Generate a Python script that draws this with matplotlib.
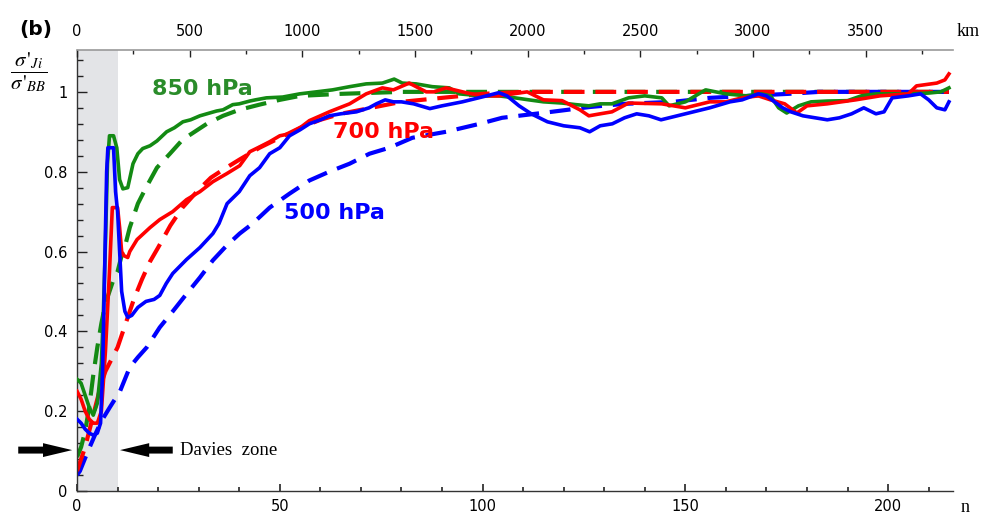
import matplotlib
matplotlib.use("Agg")
import matplotlib.pyplot as plt
from matplotlib.ticker import MultipleLocator, FormatStrFormatter
from matplotlib.patches import FancyArrowPatch

# ---------------- data ----------------
KM_PER_N = 18.0

g_sol_x = [0, 1, 2, 3, 4, 5, 6, 6.5, 7, 7.5, 8, 9, 9.8, 10.5, 11.3, 12.5, 13.8, 15, 16.2, 18, 19.7,
           22.1, 24, 26.1, 28, 30.3, 32, 34.4, 36, 38.4, 40, 42.6, 44, 46.7, 50.7, 54.9, 59, 63, 67.2,
           71.3, 75.3, 78.2, 80.2, 83.6, 87.6, 91.8, 94.2, 99.9, 104, 108, 111.4, 115, 119.6, 123,
           126.2, 129, 131.9, 136, 140, 144.2, 146, 150, 153.3, 155, 160, 165, 168.8, 171, 173, 175,
           177.9, 181, 185, 190, 193.4, 197, 201.7, 205.7, 210, 213, 215]
g_sol_y = [0.28, 0.27, 0.24, 0.21, 0.19, 0.22, 0.32, 0.45, 0.62, 0.82, 0.89, 0.89, 0.86, 0.78, 0.757,
           0.76, 0.82, 0.845, 0.858, 0.865, 0.877, 0.90, 0.91, 0.925, 0.93, 0.94, 0.945, 0.952, 0.955,
           0.968, 0.97, 0.977, 0.98, 0.985, 0.987, 0.995, 1.0, 1.005, 1.013, 1.02, 1.022, 1.032, 1.022,
           1.02, 1.013, 1.01, 0.995, 0.99, 0.99, 0.985, 0.98, 0.975, 0.972, 0.968, 0.965, 0.97, 0.97,
           0.985, 0.99, 0.985, 0.965, 0.975, 0.995, 1.005, 0.995, 0.99, 0.995, 0.99, 0.96, 0.947,
           0.965, 0.975, 0.977, 0.978, 0.99, 0.995, 0.995, 0.995, 0.997, 1.0, 1.01]

g_dsh_x = [0, 1, 2, 3, 4, 5, 6, 7, 8, 9, 10, 11, 12, 13, 14, 15, 17, 19.7, 22.9, 26, 29, 32, 36, 40,
           45, 50, 55, 65, 80, 120, 160, 215]
g_dsh_y = [0.085, 0.11, 0.15, 0.21, 0.29, 0.36, 0.42, 0.47, 0.50, 0.53, 0.55, 0.59, 0.62, 0.66, 0.69,
           0.72, 0.76, 0.81, 0.845, 0.88, 0.90, 0.92, 0.94, 0.955, 0.968, 0.98, 0.99, 0.995, 1.0, 1.0,
           1.0, 1.0]

r_sol_x = [0, 1, 2, 3, 4, 5, 6, 7, 8, 8.7, 10, 10.5, 11, 11.5, 12.5, 13, 14.8, 18, 20.4, 23.6, 27,
           30.3, 33.5, 36.9, 40.1, 42.6, 45, 47.5, 50, 52.4, 55, 57.3, 60, 62.2, 67.2, 71.3, 75.3, 78,
           81.9, 86.1, 88, 91, 95.9, 100, 104, 111, 115, 119.6, 124, 126.2, 129, 131.9, 136, 144.2,
           150, 156, 160, 164, 168, 171, 174.5, 177.5, 180, 185, 192, 198, 205, 207, 212, 214, 215]
r_sol_y = [0.25, 0.23, 0.20, 0.18, 0.17, 0.17, 0.20, 0.35, 0.55, 0.71, 0.71, 0.66, 0.60, 0.59, 0.585,
           0.60, 0.63, 0.66, 0.68, 0.70, 0.73, 0.75, 0.775, 0.795, 0.815, 0.85, 0.862, 0.875, 0.89,
           0.895, 0.91, 0.928, 0.94, 0.95, 0.97, 0.995, 1.01, 1.005, 1.022, 1.0, 1.0, 1.01, 0.998,
           0.99, 0.99, 1.0, 0.98, 0.978, 0.955, 0.94, 0.945, 0.95, 0.972, 0.97, 0.96, 0.975, 0.975,
           0.985, 0.99, 0.98, 0.97, 0.947, 0.965, 0.97, 0.98, 0.99, 0.995, 1.015, 1.022, 1.03, 1.045]

r_dsh_x = [0, 1, 2, 3, 4, 5, 6, 7, 8, 9, 10, 11, 12, 13, 14, 16, 18, 20, 23, 26, 30, 33, 36, 40, 45,
           50, 55, 60, 65, 70, 80, 90, 100, 110, 160, 215]
r_dsh_y = [0.05, 0.08, 0.11, 0.15, 0.19, 0.23, 0.27, 0.30, 0.32, 0.34, 0.36, 0.39, 0.42, 0.45, 0.48,
           0.53, 0.575, 0.61, 0.665, 0.71, 0.755, 0.785, 0.805, 0.83, 0.86, 0.885, 0.91, 0.93, 0.945,
           0.955, 0.975, 0.985, 0.995, 1.0, 1.0, 1.0]

b_sol_x = [0, 1, 2, 3, 4, 5, 5.8, 6.3, 6.8, 7.3, 7.6, 9, 9.5, 10, 10.5, 11, 11.8, 12.5, 13.5, 15, 17,
           19, 20.4, 22, 23.6, 27, 30.3, 33.5, 35, 37, 40, 42.6, 45, 47.5, 50, 52.4, 55, 57.3, 60,
           62.2, 65, 68.9, 72, 73.8, 76, 78, 80, 83, 87, 90, 95, 99, 101, 104, 106, 109, 112, 116,
           120, 124, 126.4, 129, 132, 135, 138, 141, 144, 148, 152, 156, 161, 164, 168, 170, 172,
           174, 176, 179, 182, 185, 188, 191, 194, 197, 199, 201, 205, 208, 210, 212, 214, 215]
b_sol_y = [0.18, 0.17, 0.155, 0.145, 0.14, 0.145, 0.17, 0.30, 0.55, 0.80, 0.86, 0.86, 0.75, 0.70,
           0.60, 0.50, 0.45, 0.435, 0.44, 0.46, 0.475, 0.48, 0.49, 0.52, 0.545, 0.58, 0.61, 0.645,
           0.67, 0.72, 0.75, 0.79, 0.81, 0.845, 0.86, 0.89, 0.905, 0.92, 0.93, 0.94, 0.945, 0.95,
           0.96, 0.97, 0.98, 0.975, 0.975, 0.97, 0.958, 0.965, 0.975, 0.985, 0.99, 0.998, 0.99,
           0.965, 0.945, 0.925, 0.915, 0.91, 0.90, 0.915, 0.92, 0.935, 0.945, 0.94, 0.93, 0.94,
           0.95, 0.96, 0.975, 0.98, 0.995, 0.99, 0.975, 0.96, 0.95, 0.94, 0.935, 0.93, 0.935, 0.945,
           0.96, 0.945, 0.95, 0.985, 0.99, 0.995, 0.98, 0.96, 0.955, 0.975]

b_dsh_x = [0, 0.7, 2.7, 4.4, 6, 8.1, 10.6, 13, 15, 17.2, 20.4, 23.6, 27.1, 30.3, 33.5, 36.9, 40.1,
           43.3, 47.5, 52.4, 57.3, 62.2, 67.2, 72.1, 77, 82.7, 91, 99.3, 104.8, 117, 126.4, 135, 147,
           156, 165.6, 175.4, 183, 215]
b_dsh_y = [0.04, 0.05, 0.10, 0.14, 0.175, 0.21, 0.25, 0.31, 0.335, 0.36, 0.41, 0.45, 0.495, 0.535,
           0.578, 0.615, 0.645, 0.67, 0.71, 0.745, 0.778, 0.80, 0.82, 0.845, 0.86, 0.885, 0.90, 0.92,
           0.935, 0.95, 0.962, 0.97, 0.975, 0.985, 0.99, 0.995, 1.0, 1.0]

labels = ["850 hPa", "700 hPa", "500 hPa"]
davies_n = 10
x_max = 216
y_max = 1.105

GREEN = "#138a13"
RED = "#ff0000"
BLUE = "#0000ff"

plt.rcParams["mathtext.fontset"] = "stix"

# ---------------- figure ----------------
fig = plt.figure(figsize=(9.89, 5.15), dpi=100)
ax = fig.add_axes([0.0779, 0.0466, 0.9636 - 0.0779, 0.903 - 0.0466])

ax.axvspan(0, davies_n, color="#e3e4e7", zorder=0, lw=0)

dash = (5.0, 2.6)
ax.plot(g_dsh_x, g_dsh_y, color=GREEN, lw=3.0, dashes=dash, zorder=2)
ax.plot(b_dsh_x, b_dsh_y, color=BLUE, lw=3.0, dashes=dash, zorder=2)
ax.plot(r_dsh_x, r_dsh_y, color=RED, lw=3.0, dashes=dash, zorder=2)
ax.plot(g_sol_x, g_sol_y, color=GREEN, lw=2.6, zorder=3)
ax.plot(r_sol_x, r_sol_y, color=RED, lw=2.6, zorder=3)
ax.plot(b_sol_x, b_sol_y, color=BLUE, lw=2.6, zorder=4)

ax.text(30.8, 1.008, labels[0], color="#2a8c2a", fontsize=16, fontweight="bold",
        ha="center", va="center")
ax.text(75.5, 0.899, labels[1], color=RED, fontsize=16, fontweight="bold",
        ha="center", va="center")
ax.text(63.5, 0.697, labels[2], color=BLUE, fontsize=16, fontweight="bold",
        ha="center", va="center")

ax.set_xlim(0, x_max)
ax.set_ylim(0, y_max)

ax.spines["right"].set_visible(False)
for s in ["left", "bottom"]:
    ax.spines[s].set_color("#333333")
    ax.spines[s].set_linewidth(1.0)
ax.spines["top"].set_visible(False)

ax.xaxis.set_major_locator(MultipleLocator(50))
ax.xaxis.set_minor_locator(MultipleLocator(10))
ax.yaxis.set_major_locator(MultipleLocator(0.2))
ax.yaxis.set_minor_locator(MultipleLocator(0.04))
ax.yaxis.set_major_formatter(FormatStrFormatter("%g"))

ax.tick_params(axis="both", which="both", direction="in", labelsize=10.5, color="#222222")
ax.tick_params(axis="x", which="major", length=5, width=1.2, pad=6)
ax.tick_params(axis="x", which="minor", length=3, width=1.2)
ax.tick_params(axis="y", which="major", length=7, width=1.0, pad=7)
ax.tick_params(axis="y", which="minor", length=4, width=1.0)

top = ax.twiny()
top.set_xlim(0, x_max * KM_PER_N)
top.xaxis.set_major_locator(MultipleLocator(500))
top.xaxis.set_minor_locator(MultipleLocator(250))
top.tick_params(axis="x", which="both", direction="in", labelsize=10.5, color="#222222")
top.tick_params(axis="x", which="major", length=5, width=1.0, pad=8)
top.tick_params(axis="x", which="minor", length=3, width=1.0)
for s in ["left", "right", "bottom"]:
    top.spines[s].set_visible(False)
top.spines["top"].set_color("#999999")
top.spines["top"].set_linewidth(1.2)

# Davies zone arrows and text
arrow_kw = dict(arrowstyle="simple,head_length=2.1,head_width=1.0,tail_width=0.5",
                mutation_scale=10, color="black", lw=0, clip_on=False,
                shrinkA=0, shrinkB=0)
ax.add_patch(FancyArrowPatch((-14.5, 0.1025), (-1.2, 0.1025), **arrow_kw))
ax.add_patch(FancyArrowPatch((23.6, 0.1025), (10.6, 0.1025), **arrow_kw))
ax.text(25.3, 0.1025, "Davies  zone", fontsize=13.5, family="Liberation Serif",
        ha="left", va="center")

fig.text(0.979, 0.938, "km", fontsize=13, family="Liberation Serif", ha="center", va="center")
fig.text(0.976, 0.0155, "n", fontsize=13, family="Liberation Serif", ha="center", va="center")
fig.text(0.0359, 0.943, "(b)", fontsize=14.5, fontweight="bold", ha="center", va="center")

fig.text(0.0293, 0.860, r"$\dfrac{\sigma\,'_{Ji}}{\sigma\,'_{BB}}$", fontsize=15,
         ha="center", va="center")

fig.savefig("out.png", dpi=100)
